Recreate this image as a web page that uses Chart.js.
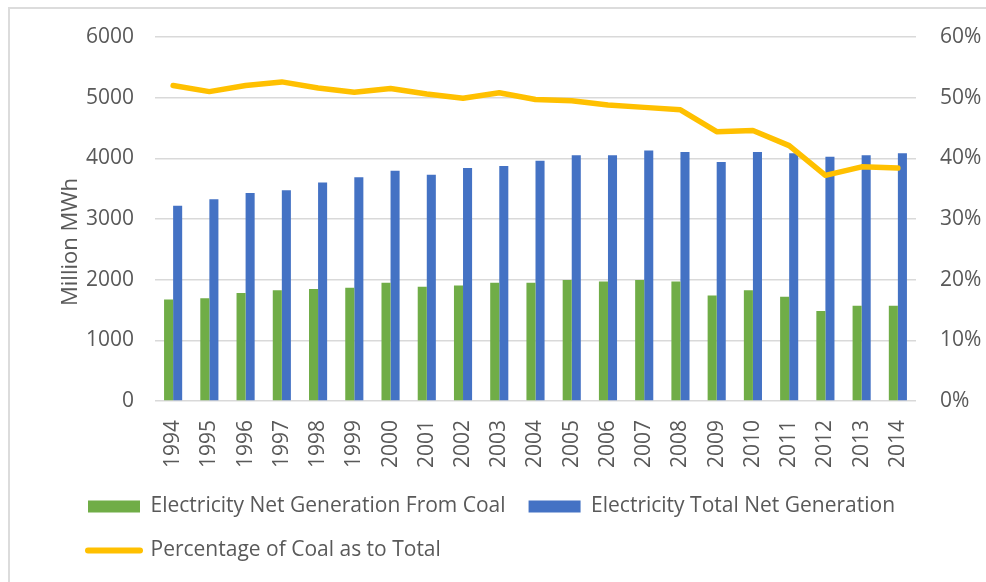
<!DOCTYPE html>
<html>
<head>
<meta charset="utf-8">
<script src="https://cdn.jsdelivr.net/npm/chart.js@4.4.1/dist/chart.umd.min.js"></script>
<style>
  html, body { margin: 0; padding: 0; background: #ffffff; overflow: hidden; }
  #frame { position: absolute; left: 8px; top: 7px; width: 1000px; height: 600px;
           border-left: 2px solid #dcdcdc; border-top: 2px solid #dcdcdc; }
  #wrap { position: absolute; left: 0; top: 0; width: 986px; height: 582px; }
</style>
</head>
<body>
<div id="frame"></div>
<div id="wrap"><canvas id="c" width="986" height="582"></canvas></div>
<script>
// ---- data ----
const years = ['1994','1995','1996','1997','1998','1999','2000','2001','2002','2003','2004',
               '2005','2006','2007','2008','2009','2010','2011','2012','2013','2014'];
const coalGeneration = [1675, 1695, 1780, 1825, 1845, 1865, 1950, 1885, 1905, 1950, 1950,
                        1995, 1970, 1995, 1970, 1740, 1825, 1720, 1485, 1570, 1570];
const totalGeneration = [3220, 3325, 3430, 3475, 3600, 3690, 3795, 3730, 3840, 3875, 3960,
                         4050, 4050, 4130, 4105, 3940, 4105, 4085, 4025, 4050, 4085];
const coalShare = [0.520, 0.510, 0.520, 0.526, 0.516, 0.509, 0.515, 0.506, 0.499, 0.508, 0.497,
                   0.495, 0.488, 0.484, 0.480, 0.444, 0.446, 0.421, 0.372, 0.386, 0.384];
const seriesNames = ['Electricity Net Generation From Coal', 'Electricity Total Net Generation',
                     'Percentage of Coal as to Total'];
const yAxisTitle = 'Million MWh';
const leftTickStep = 1000, leftMax = 6000;
const rightTickStep = 0.1, rightMax = 0.6;

const GREY_TEXT = '#595959';
const FONT = '"Open Sans", "Liberation Sans", sans-serif';

const yTitlePlugin = {
  id: 'yTitle',
  afterDraw(chart) {
    const ctx = chart.ctx;
    ctx.save();
    ctx.translate(77, 242);
    ctx.rotate(-Math.PI / 2);
    ctx.font = '22px ' + FONT;
    ctx.fillStyle = GREY_TEXT;
    ctx.textAlign = 'center';
    ctx.textBaseline = 'alphabetic';
    ctx.fillText(yAxisTitle, 0, 0);
    ctx.restore();
  }
};

const legendShiftPlugin = {
  id: 'legendShift',
  afterLayout(chart) {
    if (chart.legend) { chart.legend.left = 65; }
  }
};

new Chart(document.getElementById('c'), {
  data: {
    labels: years,
    datasets: [
      { type: 'bar', label: seriesNames[0], data: coalGeneration, backgroundColor: '#70ad47',
        yAxisID: 'y', order: 1, categoryPercentage: 0.5, barPercentage: 1.0 },
      { type: 'bar', label: seriesNames[1], data: totalGeneration, backgroundColor: '#4472c4',
        yAxisID: 'y', order: 1, categoryPercentage: 0.5, barPercentage: 1.0 },
      { type: 'line', label: seriesNames[2], data: coalShare, borderColor: '#ffc000',
        backgroundColor: '#ffc000', borderWidth: 5.5, pointRadius: 0, tension: 0,
        borderJoinStyle: 'round', borderCapStyle: 'round', yAxisID: 'y1', order: 0 }
    ]
  },
  options: {
    responsive: false,
    animation: false,
    devicePixelRatio: 1,
    layout: { padding: { top: 37, bottom: 11, left: 0, right: 0 } },
    plugins: {
      tooltip: { enabled: false },
      legend: {
        position: 'bottom',
        align: 'start',
        labels: {
          usePointStyle: true,
          pointStyleWidth: 52,
          boxHeight: 12,
          padding: 23,
          color: GREY_TEXT,
          font: { family: FONT, size: 21 },
          sort: (a, b) => a.datasetIndex - b.datasetIndex,
          generateLabels(chart) {
            const items = Chart.defaults.plugins.legend.labels.generateLabels(chart);
            items.forEach(it => {
              if (it.datasetIndex === 2) {
                it.pointStyle = 'line'; it.lineWidth = 6; it.strokeStyle = '#ffc000';
                it.fillStyle = '#ffc000'; it.lineCap = 'round';
              } else {
                it.pointStyle = 'rect'; it.lineWidth = 0;
              }
            });
            return items;
          }
        }
      }
    },
    scales: {
      x: {
        grid: { display: false, drawTicks: false },
        border: { display: false },
        ticks: { color: GREY_TEXT, font: { family: FONT, size: 21 }, minRotation: 90, maxRotation: 90,
                 padding: 19, autoSkip: false },
        afterFit(scale) { scale.height = 72; }
      },
      y: {
        position: 'left',
        min: 0, max: leftMax,
        ticks: { stepSize: leftTickStep, color: GREY_TEXT, font: { family: FONT, size: 21 }, padding: 21,
                 callback: v => String(v) },
        grid: { color: '#d9d9d9', lineWidth: 1.5, drawTicks: false },
        border: { display: false },
        afterFit(scale) { scale.width = 155; }
      },
      y1: {
        position: 'right',
        min: 0, max: rightMax,
        ticks: { stepSize: rightTickStep, color: GREY_TEXT, font: { family: FONT, size: 21 }, padding: 24,
                 callback: v => Math.round(v * 100) + '%' },
        grid: { display: false, drawTicks: false },
        border: { display: false },
        afterFit(scale) { scale.width = 70; }
      }
    }
  },
  plugins: [yTitlePlugin, legendShiftPlugin]
});
</script>
</body>
</html>
